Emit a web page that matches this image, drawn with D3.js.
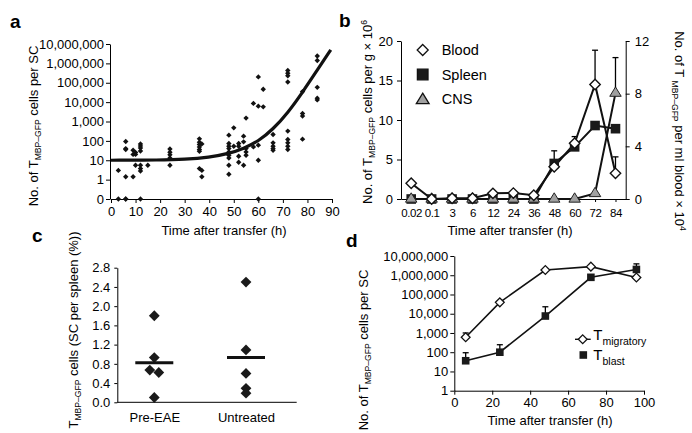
<!DOCTYPE html>
<html>
<head>
<meta charset="utf-8">
<script src="https://cdn.jsdelivr.net/npm/d3@7"></script>
<style>
  body { margin: 0; background: #fff; }
  svg { font-family: "Liberation Sans", Arial, sans-serif; }
</style>
</head>
<body>
<svg id="chart" width="692" height="433"></svg>
<script>
// Panel a: cells per SC over time, dots grouped by time point (0 = none found)
const aDotTimes = [3, 6, 9, 10, 12, 15, 24, 36, 37, 48, 50, 52, 54, 55, 58, 60, 62, 66, 72, 78, 84];
const aDotCounts = [
  [3, 0],
  [93, 40, 36, 1.4, 0, 0],
  [33, 20, 1.4],
  [25, 20, 5.5],
  [70, 55, 43, 30, 5.5, 3.7, 2.8, 0],
  [5.5],
  [38, 26, 19, 13, 5.5],
  [127, 86, 65, 49, 36, 29, 3.7],
  [70, 3, 1.4],
  [197, 73, 53, 40, 27, 18, 13, 5.5, 1.9],
  [470, 53],
  [73, 53, 16, 7.9],
  [175, 89, 5.5],
  [1500, 40, 27, 18],
  [8600, 49],
  [200000, 6200, 60, 10, 0],
  [46000, 5700],
  [215, 79, 53, 40, 33],
  [430000, 310000, 230000, 110000, 320, 118, 79, 53, 36],
  [35000, 2600, 1900, 123],
  [2400000, 1400000, 58000, 16000, 13000]
];
// fitted curve
const aFitTime = [0, 20, 30, 40, 48, 54, 60, 66, 72, 78, 84, 89.5];
const aFitCount = [10, 10.2, 11, 14, 22, 40, 95, 400, 2800, 32000, 450000, 5000000];
const aXTicks = [0, 10, 20, 30, 40, 50, 60, 70, 80, 90];
const aYTicks = [0, 1, 10, 100, 1000, 10000, 100000, 1000000, 10000000];

// Panel b: blood (right axis), spleen and CNS (left axis)
const bTimes = ["0.02", "0.1", "3", "6", "12", "24", "36", "48", "60", "72", "84"];
const bBlood = [1.2, 0, 0.06, 0.06, 0.43, 0.45, 0.28, 2.45, 4.23, 8.7, 1.95];
const bBloodErr = [null, null, null, null, null, null, null, null, 4.74, 11.3, 3.2];
const bSpleen = [0, 0, 0, 0, 0, 0, 0, 4.5, 6.6, 9.3, 8.9];
const bSpleenErr = [null, null, null, null, null, null, null, 6.1, null, null, null];
const bCns = [0, 0, 0, 0, 0, 0, 0, 0, 0, 0.7, 13.4];
const bCnsErr = [null, null, null, null, null, null, null, null, null, null, 17.9];
const bLeftTicks = [0, 5, 10, 15, 20];
const bRightTicks = [0, 4, 8, 12];

// Panel c: % of spleen cells
const cGroups = ["Pre-EAE", "Untreated"];
const cPreEae = [1.8, 0.93, 0.67, 0.62, 0.1];
const cUntreated = [2.5, 1.09, 0.6, 0.29, 0.19];
const cYTicks = [0, 0.4, 0.8, 1.2, 1.6, 2.0, 2.4, 2.8];

// Panel d: migratory vs blast cells per SC
const dTimes = [6, 24, 48, 72, 96];
const dMigratory = [596, 39000, 1870000, 2800000, 760000];
const dMigratoryErr = [1000, null, null, null, null];
const dBlast = [36, 100, 7600, 780000, 2000000];
const dBlastErr = [94, 245, 23000, null, 3900000];
const dXTicks = [0, 20, 40, 60, 80, 100];
const dYTicks = [1, 10, 100, 1000, 10000, 100000, 1000000, 10000000];

const svg = d3.select("#chart");
const commas = d3.format(",");

function diamond(r) {
  return `M0,${-r}L${r},0L0,${r}L${-r},0Z`;
}
function square(s) {
  return `M${-s},${-s}H${s}V${s}H${-s}Z`;
}
function triangle(r) {
  return `M0,${-r}L${r * 1.1},${r * 0.8}L${-r * 1.1},${r * 0.8}Z`;
}

function styleAxis(g, size = 13) {
  g.selectAll("text").attr("font-size", size).attr("fill", "#000")
    .attr("font-family", "Liberation Sans, Arial, sans-serif");
  g.selectAll("line").attr("stroke", "#000");
  g.select(".domain").attr("stroke", "#000");
}

// text with sub/superscript pieces
function label(x, y, angle, parts, size) {
  const t = svg.append("text")
    .attr("transform", `translate(${x},${y}) rotate(${angle})`)
    .attr("text-anchor", "middle");
  let shift = 0;
  parts.forEach(([str, kind]) => {
    const target = kind === "sub" ? 3 : kind === "sup" ? -5 : 0;
    t.append("tspan")
      .attr("dy", target - shift)
      .attr("font-size", kind === "n" ? size : size * 0.66)
      .text(str);
    shift = target;
  });
  return t;
}

function letter(x, y, s) {
  svg.append("text").attr("x", x).attr("y", y)
    .attr("font-size", 19).attr("font-weight", "bold").text(s);
}

function errorBars(g, xs, ys, tops, yScale) {
  tops.forEach((top, i) => {
    if (top == null) return;
    const x = xs[i];
    g.append("line").attr("x1", x).attr("x2", x)
      .attr("y1", yScale(ys[i])).attr("y2", yScale(top))
      .attr("stroke", "#000").attr("stroke-width", 1.3);
    g.append("line").attr("x1", x - 3).attr("x2", x + 3)
      .attr("y1", yScale(top)).attr("y2", yScale(top))
      .attr("stroke", "#000").attr("stroke-width", 1.3);
  });
}

// ---------- panel a ----------
const xA = d3.scaleLinear([0, 90], [111, 332]);
const yA = d3.scaleLog([0.1, 1e7], [199, 44]);
const yAv = v => yA(Math.max(v, 0.1));

svg.append("g").attr("transform", "translate(0,199)")
  .call(d3.axisBottom(xA).tickValues(aXTicks).tickSize(4).tickPadding(4).tickSizeOuter(0))
  .call(styleAxis);
svg.append("g").attr("transform", "translate(110,0)")
  .call(d3.axisLeft(yA).tickValues(aYTicks.map(v => Math.max(v, 0.1)))
    .tickFormat(v => v < 1 ? "0" : commas(v)).tickSize(4).tickPadding(2).tickSizeOuter(0))
  .call(styleAxis);

const aDots = aDotTimes.flatMap((t, i) => aDotCounts[i].map(v => [t, v]));
svg.append("g").selectAll("path").data(aDots).join("path")
  .attr("d", diamond(2.7))
  .attr("transform", d => `translate(${xA(d[0])},${yAv(d[1])})`)
  .attr("fill", "#111");

svg.append("path")
  .datum(aFitTime.map((t, i) => [t, aFitCount[i]]))
  .attr("d", d3.line().x(d => xA(d[0])).y(d => yA(d[1])).curve(d3.curveBasis))
  .attr("fill", "none").attr("stroke", "#111").attr("stroke-width", 3.2);

letter(10, 28, "a");
label(37.5, 126, -90, [["No. of T", "n"], ["MBP\u2013GFP", "sub"], [" cells per SC", "n"]], 13);
svg.append("text").attr("x", 224).attr("y", 234.5).attr("text-anchor", "middle")
  .attr("font-size", 13).text("Time after transfer (h)");

// ---------- panel b ----------
const xB = d3.scalePoint(bTimes, [401, 625.7]).padding(0.5);
const yBL = d3.scaleLinear([0, 20], [199, 41]);
const yBR = d3.scaleLinear([0, 12], [199, 41]);

svg.append("g").attr("transform", "translate(0,199)")
  .call(d3.axisBottom(xB).tickSize(3).tickPadding(7).tickSizeOuter(0))
  .call(styleAxis, 11.5)
  .selectAll("text").attr("letter-spacing", -0.4);
svg.append("g").attr("transform", "translate(401,0)")
  .call(d3.axisLeft(yBL).tickValues(bLeftTicks).tickSize(4).tickPadding(4).tickSizeOuter(0))
  .call(styleAxis);
svg.append("g").attr("transform", "translate(625.7,0)")
  .call(d3.axisRight(yBR).tickValues(bRightTicks).tickSize(4).tickPadding(5).tickSizeOuter(0))
  .call(styleAxis);

const gB = svg.append("g");
const bx = bTimes.map(t => xB(t));
const lineB = (vals, scale) => d3.line().x((d, i) => bx[i]).y(d => scale(d))(vals);

errorBars(gB, bx, bSpleen, bSpleenErr, yBL);
errorBars(gB, bx, bCns, bCnsErr, yBL);
errorBars(gB, bx, bBlood, bBloodErr, yBR);

gB.append("path").attr("d", lineB(bSpleen, yBL)).attr("fill", "none").attr("stroke", "#111").attr("stroke-width", 2);
gB.append("path").attr("d", lineB(bCns, yBL)).attr("fill", "none").attr("stroke", "#111").attr("stroke-width", 2);
gB.append("path").attr("d", lineB(bBlood, yBR)).attr("fill", "none").attr("stroke", "#111").attr("stroke-width", 2);

gB.append("g").selectAll("path").data(bSpleen).join("path")
  .attr("d", square(4.8))
  .attr("transform", (d, i) => `translate(${bx[i]},${yBL(d)})`)
  .attr("fill", "#1a1a1a");
gB.append("g").selectAll("path").data(bCns).join("path")
  .attr("d", triangle(5.2))
  .attr("transform", (d, i) => `translate(${bx[i]},${yBL(d) - 1})`)
  .attr("fill", "#a0a0a0").attr("stroke", "#222").attr("stroke-width", 1);
gB.append("g").selectAll("path").data(bBlood).join("path")
  .attr("d", diamond(5.2))
  .attr("transform", (d, i) => `translate(${bx[i]},${yBR(d)})`)
  .attr("fill", "#fff").attr("stroke", "#111").attr("stroke-width", 1.4);

// legend b
const legB = [["Blood", diamond(5.5), "#fff"], ["Spleen", square(5.3), "#1a1a1a"], ["CNS", triangle(5.8), "#a0a0a0"]];
legB.forEach(([name, d, fill], i) => {
  const y = 50 + i * 24.5;
  svg.append("path").attr("d", d).attr("transform", `translate(422.7,${y})`)
    .attr("fill", fill).attr("stroke", "#111").attr("stroke-width", 1.3);
  svg.append("text").attr("x", 441.7).attr("y", y + 5).attr("font-size", 14.5).text(name);
});

letter(339, 27, "b");
label(372, 112, -90, [["No. of T", "n"], ["MBP\u2013GFP", "sub"], [" cells per g \u00d7 10", "n"], ["6", "sup"]], 13);
label(675, 131, 90, [["No. of T ", "n"], ["MBP\u2013GFP", "sub"], ["  per ml blood \u00d7 10", "n"], ["4", "sup"]], 13);
svg.append("text").attr("x", 510).attr("y", 234.5).attr("text-anchor", "middle")
  .attr("font-size", 13).text("Time after transfer (h)");

// ---------- panel c ----------
const xC = d3.scalePoint(cGroups, [154.3, 246]);
const yC = d3.scaleLinear([0, 2.8], [402.3, 267.7]);

svg.append("g").attr("transform", "translate(117.3,0)")
  .call(d3.axisLeft(yC).tickValues(cYTicks).tickFormat(d3.format(".1f")).tickSize(3).tickPadding(4).tickSizeOuter(0))
  .call(styleAxis);
const gCx = svg.append("g").attr("transform", "translate(0,402.3)")
  .call(d3.axisBottom(xC).tickSize(0).tickPadding(10))
  .call(styleAxis);
gCx.select(".domain").remove();
svg.append("line").attr("x1", 117.3).attr("x2", 296.7).attr("y1", 402.3).attr("y2", 402.3).attr("stroke", "#000");

[cPreEae, cUntreated].forEach((vals, gi) => {
  const cx = xC(cGroups[gi]);
  // nudge near-identical values sideways, as in the original plot
  const pts = vals.map((v, i) => {
    const twin = vals.findIndex((w, j) => j !== i && Math.abs(w - v) < 0.08);
    const dx = twin < 0 ? 0 : (v > vals[twin] ? -4.5 : 4.5);
    return [cx + dx, v];
  });
  svg.append("g").selectAll("path").data(pts).join("path")
    .attr("d", diamond(5.4))
    .attr("transform", d => `translate(${d[0]},${yC(d[1])})`)
    .attr("fill", "#1a1a1a");
  const m = d3.mean(vals);
  svg.append("line").attr("x1", cx - 19).attr("x2", cx + 19)
    .attr("y1", yC(m)).attr("y2", yC(m))
    .attr("stroke", "#111").attr("stroke-width", 3);
});

letter(32, 242, "c");
label(78, 330, -90, [["T", "n"], ["MBP\u2013GFP", "sub"], [" cells (SC per spleen (%))", "n"]], 13);

// ---------- panel d ----------
const xD = d3.scaleLinear([0, 100], [454.3, 644]);
const yD = d3.scaleLog([1, 1e7], [390.7, 256]);

svg.append("g").attr("transform", "translate(0,390.7)")
  .call(d3.axisBottom(xD).tickValues(dXTicks).tickSize(4).tickPadding(3).tickSizeOuter(0))
  .call(styleAxis);
svg.append("g").attr("transform", "translate(454.3,0)")
  .call(d3.axisLeft(yD).tickValues(dYTicks).tickFormat(commas).tickSize(4).tickPadding(2).tickSizeOuter(0))
  .call(styleAxis);

const gD = svg.append("g");
const dx = dTimes.map(t => xD(t));
errorBars(gD, dx, dMigratory, dMigratoryErr, yD);
errorBars(gD, dx, dBlast, dBlastErr, yD);
const lineD = vals => d3.line().x((d, i) => dx[i]).y(d => yD(d))(vals);
gD.append("path").attr("d", lineD(dBlast)).attr("fill", "none").attr("stroke", "#111").attr("stroke-width", 1.6);
gD.append("path").attr("d", lineD(dMigratory)).attr("fill", "none").attr("stroke", "#111").attr("stroke-width", 1.6);
gD.append("g").selectAll("path").data(dBlast).join("path")
  .attr("d", square(3.8))
  .attr("transform", (d, i) => `translate(${dx[i]},${yD(d)})`)
  .attr("fill", "#1a1a1a");
gD.append("g").selectAll("path").data(dMigratory).join("path")
  .attr("d", diamond(4.4))
  .attr("transform", (d, i) => `translate(${dx[i]},${yD(d)})`)
  .attr("fill", "#fff").attr("stroke", "#111").attr("stroke-width", 1.3);

// legend d
svg.append("line").attr("x1", 575).attr("x2", 590.7).attr("y1", 339.3).attr("y2", 339.3)
  .attr("stroke", "#111").attr("stroke-width", 1.4);
svg.append("path").attr("d", diamond(4.4)).attr("transform", "translate(582.7,339.3)")
  .attr("fill", "#fff").attr("stroke", "#111").attr("stroke-width", 1.3);
svg.append("path").attr("d", square(3.8)).attr("transform", "translate(583.3,355)")
  .attr("fill", "#1a1a1a");
[["migratory", 340], ["blast", 360]].forEach(([sub, y]) => {
  const t = svg.append("text").attr("x", 593.3).attr("y", y).attr("font-size", 15);
  t.append("tspan").text("T");
  t.append("tspan").attr("dy", 4.5).attr("font-size", 10.5).text(sub);
});

letter(346, 247, "d");
label(368, 350, -90, [["No. of T", "n"], ["MBP\u2013GFP", "sub"], [" cells per SC", "n"]], 13);
svg.append("text").attr("x", 550).attr("y", 425).attr("text-anchor", "middle")
  .attr("font-size", 13).text("Time after transfer (h)");
</script>
</body>
</html>
